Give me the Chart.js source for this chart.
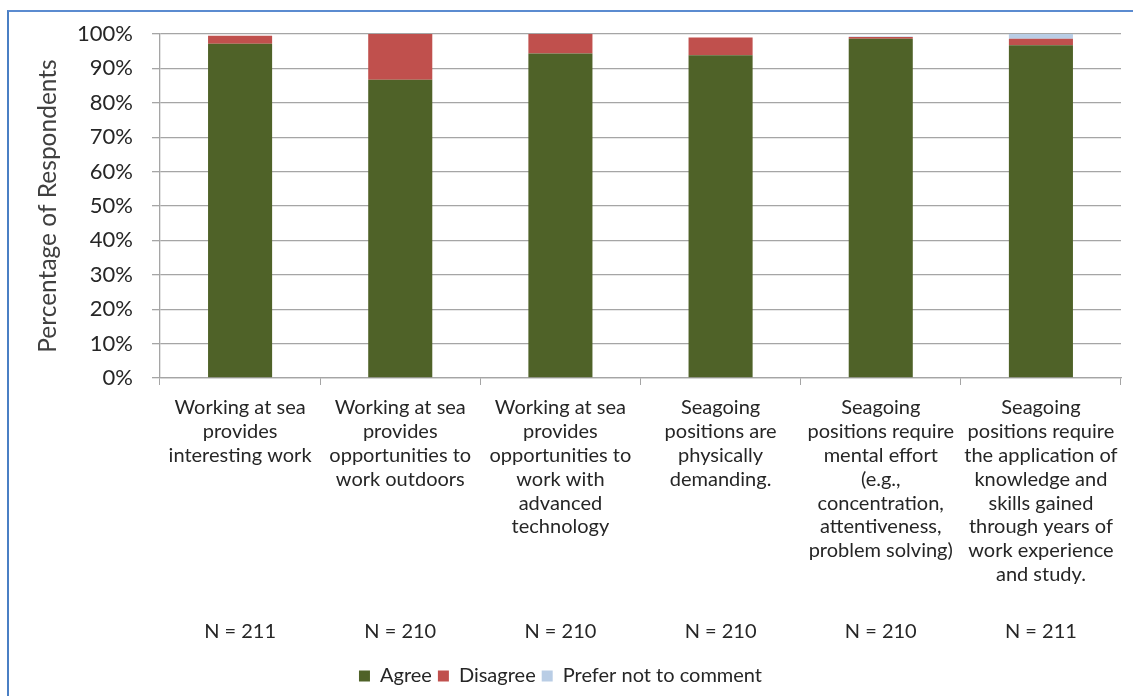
<!DOCTYPE html>
<html>
<head>
<meta charset="utf-8">
<script src="https://cdn.jsdelivr.net/npm/chart.js@4"></script>
<style>
  html, body { margin: 0; padding: 0; background: #fff; }
  #wrap { position: relative; width: 1133px; height: 696px; }
  #frame { position: absolute; left: 7px; top: 10px; right: 0; bottom: 0;
           border-left: 2px solid #4a7fc4; border-top: 2px solid #5b8bd0; pointer-events: none; }
  canvas { position: absolute; left: 0; top: 0; }
</style>
</head>
<body>
<div id="wrap">
  <canvas id="myChart" width="1133" height="696"></canvas>
  <div id="frame"></div>
</div>
<script>
const categories = [
  ["Working at sea", "provides", "interesting work"],
  ["Working at sea", "provides", "opportunities to", "work outdoors"],
  ["Working at sea", "provides", "opportunities to", "work with", "advanced", "technology"],
  ["Seagoing", "positions are", "physically", "demanding."],
  ["Seagoing", "positions require", "mental effort", "(e.g.,", "concentration,", "attentiveness,", "problem solving)"],
  ["Seagoing", "positions require", "the application of", "knowledge and", "skills gained", "through years of", "work experience", "and study."]
];
const sampleSizes = ["N = 211", "N = 210", "N = 210", "N = 210", "N = 210", "N = 211"];

// percent of respondents
const agree = [97.2, 86.7, 94.3, 93.8, 98.6, 96.7];
const disagree = [2.3, 13.3, 5.7, 5.2, 0.5, 1.9];
const preferNot = [0, 0, 0, 0, 0.2, 1.4];

const yTicks = [0, 10, 20, 30, 40, 50, 60, 70, 80, 90, 100];

const textColor = "#262626";
const gridColor = "#a5a5a5";
const labelFont = "Lato, 'Open Sans', sans-serif";

// draws the N row under the category labels
const sampleRow = {
  id: "sampleRow",
  afterDraw(chart) {
    const ctx = chart.ctx;
    const xs = chart.scales.x;
    ctx.save();
    ctx.font = "20px " + labelFont;
    ctx.fillStyle = textColor;
    ctx.textAlign = "center";
    ctx.textBaseline = "middle";
    sampleSizes.forEach((n, i) => {
      ctx.fillText(n, xs.getPixelForValue(i), 632);
    });
    ctx.restore();
  }
};

let ctx = document.getElementById("myChart").getContext("2d");

const myChart = new Chart(ctx, {
  type: "bar",
  data: {
    labels: categories,
    datasets: [{
      label: "Agree",
      data: agree,
      backgroundColor: "#4f6228",
      barPercentage: 0.4,
      categoryPercentage: 1
    }, {
      label: "Disagree",
      data: disagree,
      backgroundColor: "#c0504d",
      barPercentage: 0.4,
      categoryPercentage: 1
    }, {
      label: "Prefer not to comment",
      data: preferNot,
      backgroundColor: "#b9cde5",
      barPercentage: 0.4,
      categoryPercentage: 1
    }]
  },
  options: {
    responsive: false,
    animation: false,
    layout: { padding: { top: 34, right: 12, left: 0, bottom: 0 } },
    scales: {
      x: {
        stacked: true,
        afterFit(scale) { scale.height = 282; },
        border: { color: gridColor, width: 1.3 },
        grid: {
          offset: true,
          drawOnChartArea: false,
          drawTicks: true,
          tickLength: 7,
          color: gridColor
        },
        ticks: {
          color: textColor,
          padding: 11,
          maxRotation: 0,
          autoSkip: false,
          font: { family: labelFont, size: 20, lineHeight: 1.19 }
        }
      },
      y: {
        stacked: true,
        min: 0,
        max: 100,
        afterFit(scale) { scale.width = 160; },
        afterBuildTicks(scale) { scale.ticks = yTicks.map(v => ({ value: v })); },
        border: { color: gridColor, width: 1.3 },
        grid: { color: gridColor, lineWidth: 1.3, tickLength: 8 },
        ticks: {
          color: textColor,
          padding: 19,
          font: { family: labelFont, size: 22 },
          callback: v => v + "%"
        },
        title: {
          display: true,
          text: "Percentage of Respondents",
          color: "#404040",
          padding: { top: 33, bottom: 0 },
          font: { family: labelFont, size: 24.5, lineHeight: 1.2 }
        }
      }
    },
    plugins: {
      tooltip: { enabled: false },
      legend: {
        position: "bottom",
        labels: {
          color: textColor,
          boxWidth: 11,
          boxHeight: 11,
          padding: 6,
          font: { family: labelFont, size: 20 }
        }
      }
    }
  },
  plugins: [sampleRow]
});
</script>
</body>
</html>
